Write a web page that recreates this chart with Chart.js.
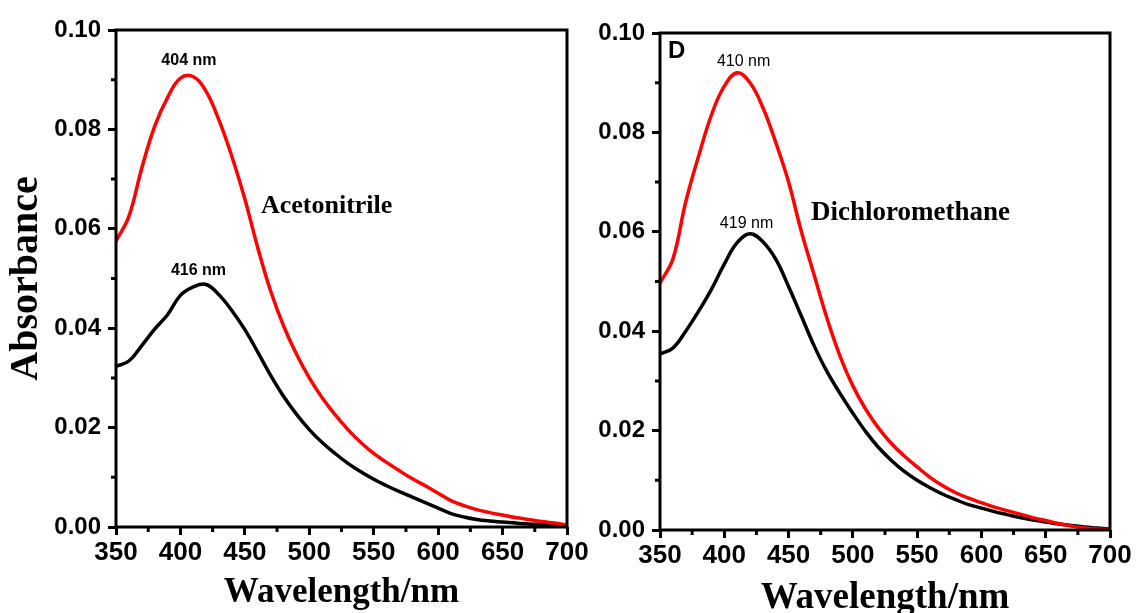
<!DOCTYPE html>
<html>
<head>
    <title>Absorbance spectra</title>
    <style>
        body{
            margin:0;
            background:white;
        }
        .panel{
            position:absolute;
            top:0;
        }
    </style>
</head>
<body>
<div class="panel" style="left:0px;"><canvas id="acetonitrile" width="600" height="613"></canvas></div>
<div class="panel" style="left:560px;"><canvas id="dichloromethane" width="576" height="613"></canvas></div>

<script src="https://cdn.jsdelivr.net/npm/chart.js@4/dist/chart.umd.min.js"></script>
<script>
    // wavelength in nm, 10 nm steps
    const wavelength = [350,360,370,380,390,400,410,420,430,440,450,460,470,480,490,500,510,520,530,540,
        550,560,570,580,590,600,610,620,630,640,650,660,670,680,690,700];

    // acetonitrile
    const acnRed = [0.0575,0.0625,0.0722,0.0806,0.0864,0.0903,0.0906,0.0876,0.0818,0.0745,
        0.0660,0.0562,0.0475,0.0405,0.0348,0.0300,0.0260,0.0226,0.0196,0.0170,
        0.0148,0.0130,0.0113,0.0097,0.0083,0.0068,0.0053,0.0043,0.0035,0.0029,
        0.0024,0.0019,0.0015,0.0011,0.0008,0.0004];
    const acnBlack = [0.0323,0.0334,0.0365,0.0398,0.0427,0.0466,0.0483,0.0488,0.0467,0.0435,
        0.0397,0.0352,0.0305,0.0263,0.0227,0.0196,0.0170,0.0148,0.0128,0.0111,
        0.0096,0.0083,0.0071,0.0060,0.0049,0.0038,0.0027,0.0020,0.0015,0.0012,
        0.0010,0.0008,0.0006,0.0005,0.0004,0.0003];

    // dichloromethane
    const dcmRed = [0.0497,0.0545,0.0660,0.0752,0.0835,0.0893,0.0920,0.0900,0.0850,0.0780,
        0.0700,0.0600,0.0512,0.0425,0.0350,0.0290,0.0243,0.0205,0.0174,0.0149,
        0.0127,0.0106,0.0089,0.0075,0.0064,0.0055,0.0046,0.0039,0.0032,0.0025,
        0.0019,0.0013,0.0008,0.0004,0.0002,0.0001];
    const dcmBlack = [0.0354,0.0366,0.0400,0.0440,0.0484,0.0535,0.0578,0.0596,0.0580,0.0545,
        0.0490,0.0430,0.0370,0.0318,0.0275,0.0235,0.0198,0.0166,0.0140,0.0118,
        0.0100,0.0085,0.0072,0.0061,0.0051,0.0044,0.0037,0.0031,0.0025,0.0020,
        0.0016,0.0012,0.0009,0.0006,0.0004,0.0002];

    // peak labels (text, wavelength, absorbance)
    const acnNotes = [
        {text: "404 nm", x: 406.6, y: 0.0938, font: "bold 16px 'Liberation Sans'", align: "center"},
        {text: "416 nm", x: 414, y: 0.0516, font: "bold 16px 'Liberation Sans'", align: "center"},
        {text: "Acetonitrile", x: 462.5, y: 0.0646, font: "bold 26px 'Liberation Serif'", align: "left"}
    ];
    const dcmNotes = [
        {text: "D", x: 356.2, y: 0.0963, font: "bold 24px 'Liberation Sans'", align: "left"},
        {text: "410 nm", x: 415, y: 0.0943, font: "16px 'Liberation Sans'", align: "center"},
        {text: "419 nm", x: 417.3, y: 0.0616, font: "16px 'Liberation Sans'", align: "center"},
        {text: "Dichloromethane", x: 467.4, y: 0.0638, font: "bold 27px 'Liberation Serif'", align: "left"}
    ];

    function toPoints(values) {
        return wavelength.map((w, i) => ({x: w, y: values[i]}));
    }

    // box frame, minor ticks and text labels
    const framePlugin = {
        id: 'frame',
        afterDraw(chart, args, opts) {
            const ctx = chart.ctx;
            const area = chart.chartArea;
            const xs = chart.scales.x;
            const ys = chart.scales.y;
            ctx.save();
            ctx.strokeStyle = 'black';
            ctx.lineWidth = 3;
            ctx.strokeRect(area.left, area.top, area.right - area.left, area.bottom - area.top);

            ctx.beginPath();
            for (let i = 0; i < xs.ticks.length - 1; i++) {
                const px = xs.getPixelForValue((xs.ticks[i].value + xs.ticks[i + 1].value) / 2);
                ctx.moveTo(px, area.bottom);
                ctx.lineTo(px, area.bottom + 5);
            }
            for (let i = 0; i < ys.ticks.length - 1; i++) {
                const py = ys.getPixelForValue((ys.ticks[i].value + ys.ticks[i + 1].value) / 2);
                ctx.moveTo(area.left, py);
                ctx.lineTo(area.left - 5, py);
            }
            ctx.stroke();

            ctx.fillStyle = 'black';
            ctx.textBaseline = 'middle';
            (opts.notes || []).forEach(n => {
                ctx.font = n.font;
                ctx.textAlign = n.align;
                ctx.fillText(n.text, xs.getPixelForValue(n.x), ys.getPixelForValue(n.y));
            });
            ctx.restore();
        }
    };

    function makeChart(id, red, black, notes, box, showYTitle) {
        return new Chart(id, {
            type: "line",
            data: {
                datasets: [{
                    data: toPoints(red),
                    borderColor: "#ff0000",
                    borderWidth: 3.5,
                    pointRadius: 0,
                    tension: 0.4,
                    fill: false
                }, {
                    data: toPoints(black),
                    borderColor: "#000000",
                    borderWidth: 3.5,
                    pointRadius: 0,
                    tension: 0.4,
                    fill: false
                }]
            },
            plugins: [framePlugin],
            options: {
                responsive: false,
                animation: false,
                layout: { padding: { top: box.top, right: box.right, left: 0, bottom: 0 } },
                plugins: {
                    legend: { display: false },
                    tooltip: { enabled: false },
                    frame: { notes: notes }
                },
                scales: {
                    x: {
                        type: "linear",
                        min: 350,
                        max: 700,
                        afterFit: s => { s.height = box.xHeight; },
                        border: { display: false },
                        grid: { drawOnChartArea: false, tickLength: 8, tickWidth: 3, tickColor: "black" },
                        ticks: {
                            stepSize: 50,
                            padding: 2,
                            color: "black",
                            font: { family: "Liberation Sans", weight: "bold", size: 26 }
                        },
                        title: {
                            display: true,
                            text: "Wavelength/nm",
                            color: "black",
                            padding: { top: 0, bottom: box.titleGap },
                            font: { family: "Liberation Serif", weight: "bold", size: box.titleSize, lineHeight: 1.0 }
                        }
                    },
                    y: {
                        min: 0,
                        max: 0.1,
                        afterFit: s => { s.width = box.yWidth; },
                        border: { display: false },
                        grid: { drawOnChartArea: false, tickLength: 8, tickWidth: 3, tickColor: "black" },
                        ticks: {
                            stepSize: 0.02,
                            padding: 7,
                            color: "black",
                            font: { family: "Liberation Sans", weight: "bold", size: 24 },
                            callback: v => v.toFixed(2)
                        },
                        title: {
                            display: showYTitle,
                            text: "Absorbance",
                            color: "black",
                            padding: { top: 3, bottom: 0 },
                            font: { family: "Liberation Serif", weight: "bold", size: 40, lineHeight: 1.2 }
                        }
                    }
                }
            }
        });
    }

    makeChart("acetonitrile", acnRed, acnBlack, acnNotes,
        { top: 30, right: 33, xHeight: 86, yWidth: 116, titleSize: 35, titleGap: 3 }, true);
    makeChart("dichloromethane", dcmRed, dcmBlack, dcmNotes,
        { top: 33, right: 26, xHeight: 83, yWidth: 100, titleSize: 37, titleGap: -4 }, false);
</script>
</body>
</html>
